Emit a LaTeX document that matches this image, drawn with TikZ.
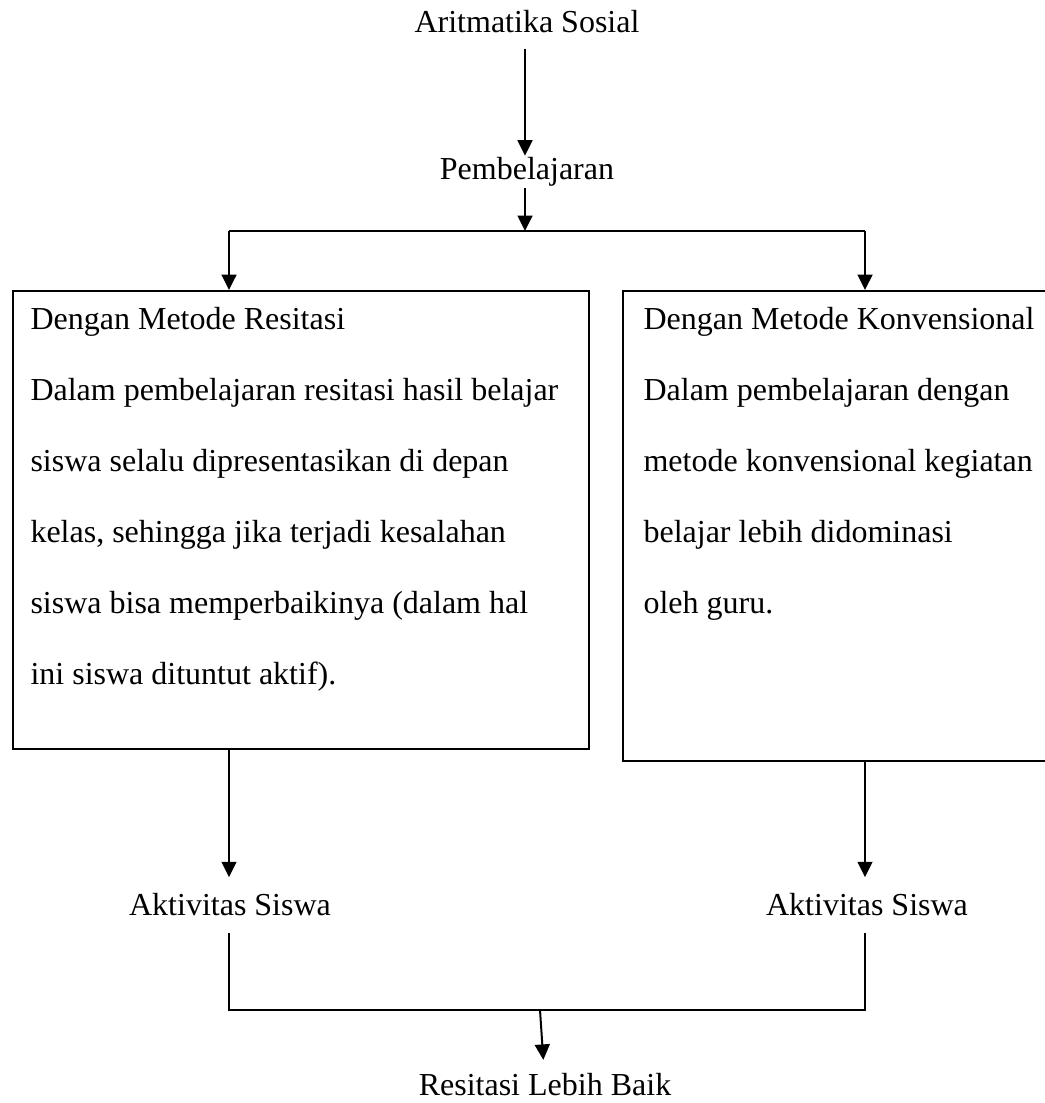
\documentclass[tikz,border=0pt]{standalone}
\usepackage{fontspec}
\setmainfont{Liberation Serif}
\usetikzlibrary{arrows.meta,positioning}

\tikzset{
  arr/.style={-{Triangle[length=5.8pt,width=5.6pt]}, line width=0.75pt},
  garis/.style={line width=0.75pt},
  judul/.style={font=\fontsize{12}{14}\selectfont, inner sep=4pt},
  kotak/.style={draw, line width=0.75pt, anchor=north west, inner sep=0pt},
  isi/.style={anchor=north west, align=left, inner sep=0pt, font=\fontsize{12}{26.6}\selectfont},
}

\begin{document}
\begin{tikzpicture}[x=0.375pt,y=-0.375pt]
    \useasboundingbox (0,0) rectangle (1045,1103);

    \node[judul, inner ysep=5.6pt] (arit) at (527, 22) {Aritmatika Sosial};
    \node[judul, inner ysep=0.5pt] (pemb) at (527, 172) {Pembelajaran};
    \coordinate (bagi) at (525, 231);
    \coordinate (kiri) at (229, 231);
    \coordinate (kanan) at (865, 231);

    \node[kotak, minimum width=216pt, minimum height=171.75pt] (resitasi) at (12, 290) {};
    \node[kotak, minimum width=165pt, minimum height=176.25pt] (konvensional) at (622, 290) {};
    \node[isi] (teksresitasi) at (30, 307) {Dengan Metode Resitasi\\
        Dalam pembelajaran resitasi hasil belajar\\
        siswa selalu dipresentasikan di depan\\
        kelas, sehingga jika terjadi kesalahan\\
        siswa bisa memperbaikinya (dalam hal\\
        ini siswa dituntut aktif).};
    \node[isi] (tekskonvensional) at (643, 307) {Dengan Metode Konvensional\\
        Dalam pembelajaran dengan\\
        metode konvensional kegiatan\\
        belajar lebih didominasi\\
        oleh guru.};

    \node[judul, inner ysep=6pt] (aktif1) at (230, 905) {Aktivitas Siswa};
    \node[judul, inner ysep=6pt] (aktif2) at (867, 905) {Aktivitas Siswa};
    \coordinate (gabung) at (540, 1010);
    \node[judul, inner ysep=5pt] (hasil) at (545, 1085) {Resitasi Lebih Baik};

    \draw[arr] (arit.south -| bagi) -- (pemb.north -| bagi);
    \draw[arr] (pemb.south -| bagi) -- (bagi);
    \draw[garis] (kiri) -- (kanan);
    \draw[arr] (kiri) -- (kiri |- resitasi.north);
    \draw[arr] (kanan) -- (kanan |- konvensional.north);
    \draw[arr] (resitasi.south -| kiri) -- (aktif1.north -| kiri);
    \draw[arr] (konvensional.south -| kanan) -- (aktif2.north -| kanan);
    \draw[garis] (aktif1.south -| kiri) |- (gabung) -| (aktif2.south -| kanan);
    \draw[arr] (gabung) -- (hasil);

\end{tikzpicture}
\end{document}
